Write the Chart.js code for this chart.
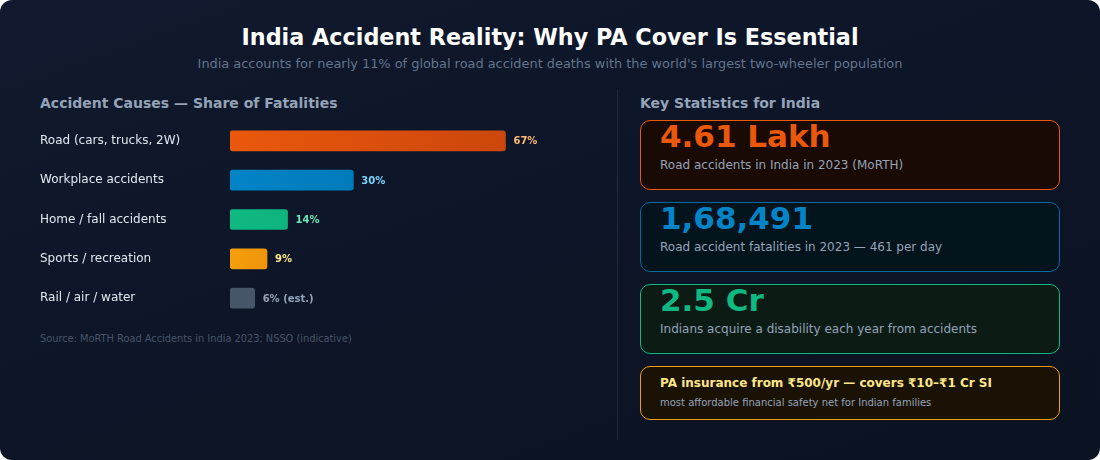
<!DOCTYPE html>
<html><head><meta charset="utf-8">
<script src="https://cdn.jsdelivr.net/npm/chart.js@4/dist/chart.umd.min.js"></script>
<style>
body{margin:0;background:#fff;font-family:"DejaVu Sans",sans-serif;}
#wrap{position:absolute;left:0;top:0;width:1100px;height:460px;border-radius:12px;background:linear-gradient(160deg,#111a2e,#0c1426 60%,#0b1322);overflow:hidden;}
.t{position:absolute;white-space:nowrap;}
.box{position:absolute;left:640px;width:418px;border-radius:10px;border:1.5px solid;}
</style></head><body>
<div id="wrap">
<div class="t" style="left:0;width:1100px;text-align:center;top:24px;font-size:22.3px;font-weight:bold;color:#fff;">India Accident Reality: Why PA Cover Is Essential</div>
<div class="t" style="left:0;width:1100px;text-align:center;top:56px;font-size:12.9px;color:#64748b;">India accounts for nearly 11% of global road accident deaths with the world's largest two-wheeler population</div>
<div class="t" style="left:40px;top:95px;font-size:14px;font-weight:bold;color:#94a3b8;">Accident Causes — Share of Fatalities</div>
<div class="t" style="left:640px;top:95px;font-size:14px;font-weight:bold;color:#94a3b8;">Key Statistics for India</div>
<div style="position:absolute;left:617px;top:90px;width:1px;height:350px;background:#1e293b;"></div>
<div style="position:absolute;left:40px;top:114px;width:560px;height:211px;"><canvas id="c"></canvas></div>
<div class="t" style="left:40px;top:333px;font-size:9.8px;color:#475569;">Source: MoRTH Road Accidents in India 2023; NSSO (indicative)</div>

<div class="box" style="top:120px;height:68px;border-color:#ea580c;background:#1a0a04;"></div>
<div class="t" style="left:660px;top:118px;font-size:31px;font-weight:bold;color:#ea580c;">4.61 Lakh</div>
<div class="t" style="left:660px;top:158px;font-size:12px;color:#94a3b8;">Road accidents in India in 2023 (MoRTH)</div>
<div class="box" style="top:202px;height:68px;border-color:#0369a1;background:#04141d;"></div>
<div class="t" style="left:660px;top:200px;font-size:31px;font-weight:bold;color:#0284c7;">1,68,491</div>
<div class="t" style="left:660px;top:240px;font-size:12px;color:#94a3b8;">Road accident fatalities in 2023 — 461 per day</div>
<div class="box" style="top:284px;height:68px;border-color:#10b981;background:#0c1c15;"></div>
<div class="t" style="left:660px;top:282px;font-size:31px;font-weight:bold;color:#10b981;">2.5 Cr</div>
<div class="t" style="left:660px;top:322px;font-size:12px;color:#94a3b8;">Indians acquire a disability each year from accidents</div>
<div class="box" style="top:366px;height:52px;border-color:#f59e0b;background:#1b1206;"></div>
<div class="t" style="left:660px;top:376px;font-size:12px;font-weight:bold;color:#fde68a;">PA insurance from ₹500/yr — covers ₹10–₹1 Cr SI</div>
<div class="t" style="left:660px;top:397px;font-size:10px;color:#94a3b8;">most affordable financial safety net for Indian families</div>
</div>
<script>
const categories=["Road (cars, trucks, 2W)","Workplace accidents","Home / fall accidents","Sports / recreation","Rail / air / water"];
const values=[67,30,14,9,6];
const valueLabels=["67%","30%","14%","9%","6% (est.)"];
const gradStops=[["#ea580c","#c2410c"],["#0284c7","#0369a1"],["#10b981","#059669"],["#f59e0b","#c2410c"],["#475569","#475569"]];
const labelColors=["#fdba74","#7dd3fc","#6ee7b7","#fde68a","#94a3b8"];
const valPlugin={id:'vals',afterDatasetsDraw(ch){const ctx=ch.ctx;const m=ch.getDatasetMeta(0);ctx.save();ctx.font='bold 10px "DejaVu Sans"';ctx.textBaseline='middle';
m.data.forEach((b,i)=>{ctx.fillStyle=labelColors[i];ctx.fillText(valueLabels[i],b.x+8,b.y+1);});ctx.restore();}};
new Chart(document.getElementById('c'),{type:'bar',
data:{labels:categories,datasets:[{data:values,barThickness:20,borderRadius:3,borderSkipped:false,
backgroundColor(c){const a=c.chart.chartArea;if(!a)return '#888';const el=c.element;const i=c.dataIndex;
const x1=el&&el.x?el.x:a.right;const g=c.chart.ctx.createLinearGradient(a.left,0,Math.max(x1,a.left+1),0);g.addColorStop(0,gradStops[i][0]);g.addColorStop(1,gradStops[i][1]);return g;}}]},
options:{indexAxis:'y',responsive:true,maintainAspectRatio:false,animation:false,
layout:{padding:0},
plugins:{legend:{display:false},tooltip:{enabled:false}},
scales:{x:{min:0,max:90,display:false},
y:{grid:{display:false},border:{display:false},afterFit(s){s.width=190;},
ticks:{crossAlign:'far',color:'#e2e8f0',font:{size:12,family:'DejaVu Sans'},padding:0}}}},
plugins:[valPlugin]});
</script>
</body></html>
